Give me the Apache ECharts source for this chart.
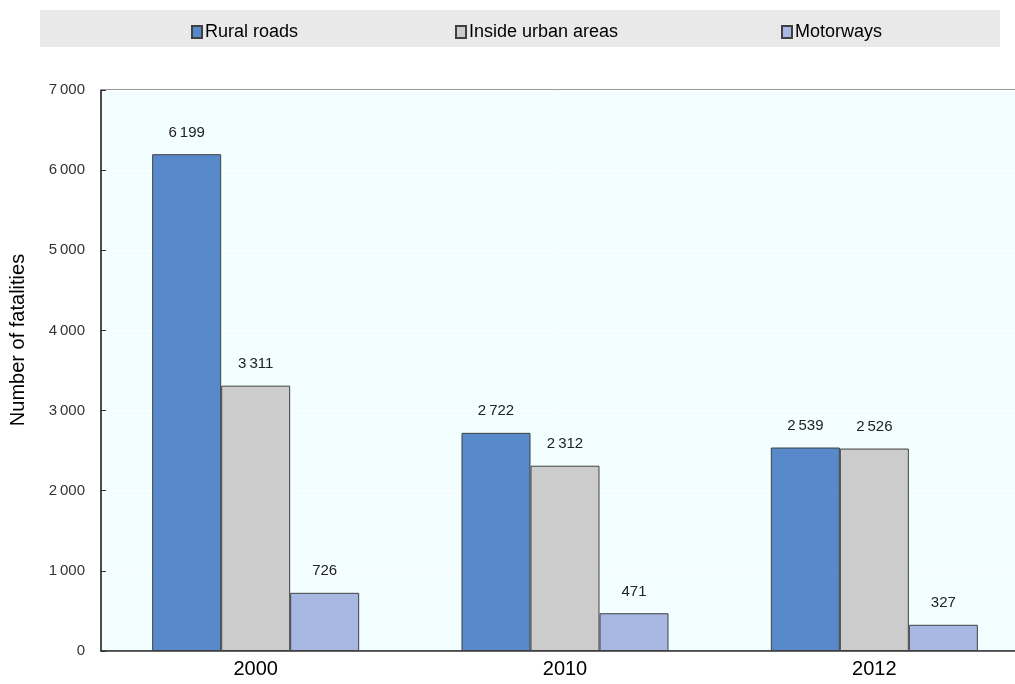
<!DOCTYPE html>
<html><head><meta charset="utf-8">
<script src="https://cdn.jsdelivr.net/npm/echarts@6/dist/echarts.min.js"></script>
<style>html,body{margin:0;padding:0;background:#fff}#c{width:1015px;height:684px}</style>
</head><body><div id="c"></div>
<script>
const categories = ['2000', '2010', '2012'];
const seriesNames = ['Rural roads', 'Inside urban areas', 'Motorways'];
const rural = [6199, 2722, 2539];
const urban = [3311, 2312, 2526];
const motorways = [726, 471, 327];
const yTicks = [0, 1000, 2000, 3000, 4000, 5000, 6000, 7000];
const colors = ['#5889CA', '#CCCCCC', '#A8B8E2'];
const FONT = "'Liberation Sans',Arial,sans-serif";
const fmt = v => String(v).replace(/\B(?=(\d{3})+(?!\d))/g, '\u2009');
const chart = echarts.init(document.getElementById('c'));
const vals = [rural, urban, motorways];
const legendX = [186, 450, 776];
chart.setOption({
  animation: false,
  graphic: [
    {type:'rect', shape:{x:40,y:10,width:960,height:37}, style:{fill:'#E9E9E9'}, z:-1},
    {type:'text', rotation: Math.PI/2, x:18, y:340, style:{text:'Number of fatalities', font:"20px "+FONT, fill:'#000', textAlign:'center', textVerticalAlign:'middle'}}
  ],
  legend: seriesNames.map((n,i)=>({
    data:[n], left: legendX[i], top: 18, icon:'rect', itemWidth:10, itemHeight:12, itemGap:5,
    textStyle:{fontFamily:FONT, fontSize:18, color:'#000', padding:[0,0,0,-2]}
  })),
  grid: {left:101, top:90, width:928, height:561, outerBoundsMode:'none', containLabel:false, show:true, backgroundColor:'#F2FEFF', borderColor:'#333', borderWidth:1},
  xAxis: {type:'category', data:categories,
    axisLine:{lineStyle:{color:'#333', width:1.5}},
    axisTick:{inside:true, length:6, lineStyle:{color:'#333'}},
    axisLabel:{fontFamily:FONT, fontSize:20, color:'#000', margin:8}},
  yAxis: {type:'value', min:0, max:7000, interval:1000,
    axisLine:{show:true, lineStyle:{color:'#333', width:1.5}},
    axisTick:{show:true, inside:true, length:5, lineStyle:{color:'#333'}},
    splitLine:{show:true, lineStyle:{color:'#FFFFFF', width:1}},
    axisLabel:{fontFamily:FONT, fontSize:15, color:'#333', margin:16, formatter: v => fmt(v)}},
  series: seriesNames.map((n,i)=>({
    name:n, type:'bar', data:vals[i], barWidth:69, barGap:'0%',
    itemStyle:{color:colors[i], borderColor:'#404040', borderWidth:1},
    label:{show:true, position:'top', distance:14, fontFamily:FONT, fontSize:15, color:'#222', formatter: p => fmt(p.value)}
  }))
});
</script></body></html>
